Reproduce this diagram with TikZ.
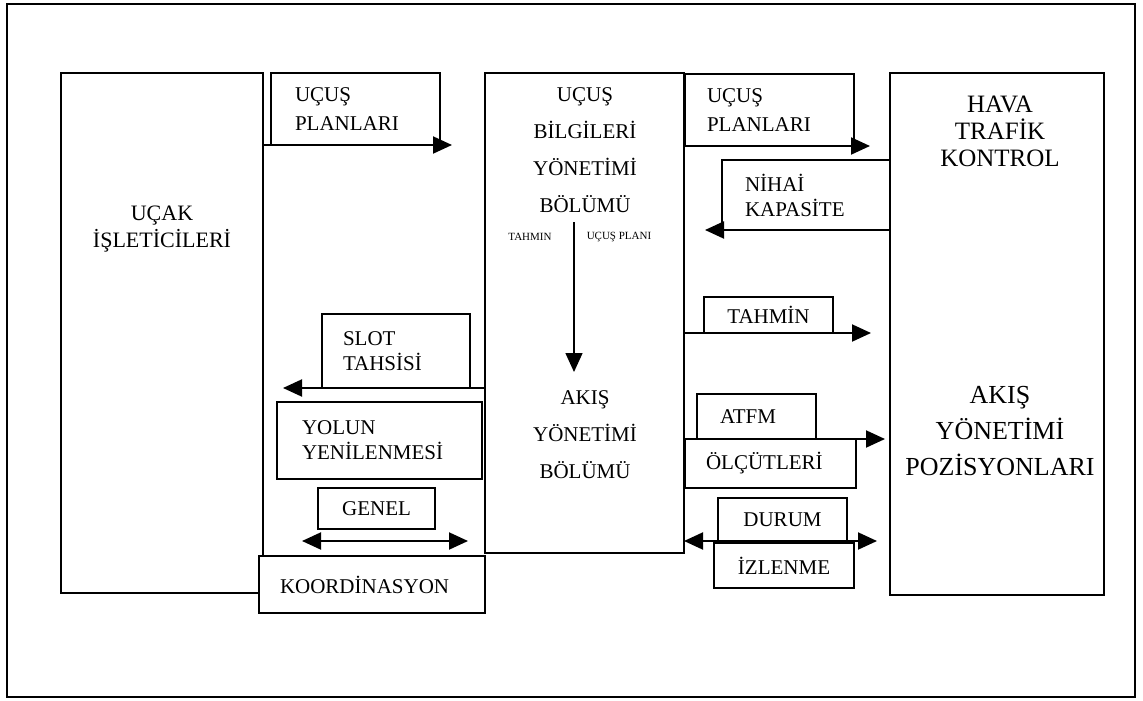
\documentclass[tikz,border=0pt]{standalone}
\usepackage{fontspec}
\setmainfont{Liberation Serif}
\usepackage{tikz}
\usetikzlibrary{arrows.meta, positioning, calc}
\tikzset{
    unit/.style={draw, line width=1.5pt, outer sep=0pt, inner sep=0pt, anchor=north west},
    lbox/.style={draw, line width=1.5pt, fill=white, outer sep=0pt, anchor=north west, align=left, inner ysep=0pt, font=\fontsize{21}{25}\selectfont},
    title/.style={align=center, inner sep=0pt},
    arr/.style={-{Triangle[length=19pt,width=17pt]}, line width=2pt},
    darr/.style={{Triangle[length=19pt,width=17pt]}-{Triangle[length=19pt,width=17pt]}, line width=2pt}
}

\begin{document}
\begin{tikzpicture}[x=1pt, y=-1pt]
  \useasboundingbox (0,0) rectangle (1143,701);
  \draw[line width=1.5pt] (7,4) rectangle (1135,697);

  % main units
  \node[unit, minimum width=202pt, minimum height=520pt] (ucak) at (61,73) {};
  \node[unit, minimum width=199pt, minimum height=480pt] (fdmu) at (485,73) {};
  \node[unit, minimum width=214pt, minimum height=522pt] (atc) at (890,73) {};

  \node[title, font=\fontsize{22}{27}\selectfont] (ucakt) at (162,229) {UÇAK\\İŞLETİCİLERİ};
  \node[title, font=\fontsize{21}{37}\selectfont] (fdmut) at (585,150) {UÇUŞ\\BİLGİLERİ\\YÖNETİMİ\\BÖLÜMÜ};
  \node[title, font=\fontsize{21}{37}\selectfont] (fmut) at (585,435) {AKIŞ\\YÖNETİMİ\\BÖLÜMÜ};
  \node[title, font=\fontsize{25}{27}\selectfont] (atct) at (1000,131) {HAVA\\TRAFİK\\KONTROL};
  \node[title, font=\fontsize{26}{36}\selectfont] (fmpt) at (1000,431) {AKIŞ\\YÖNETİMİ\\POZİSYONLARI};
  \node[font=\fontsize{11}{13}\selectfont] (tahs) at (530,237) {TAHMIN};
  \node[font=\fontsize{11}{13}\selectfont] (plans) at (619,237) {UÇUŞ PLANI};

  % message boxes
  \node[lbox, text width=121pt, inner xsep=24pt, minimum height=72pt, font=\fontsize{21}{29}\selectfont] (pl1) at (271,73) {UÇUŞ\\PLANLARI};
  \node[lbox, text width=125pt, inner xsep=22pt, minimum height=72pt, font=\fontsize{21}{29}\selectfont] (pl2) at (685,74) {UÇUŞ\\PLANLARI};
  \node[lbox, text width=122pt, inner xsep=23pt, minimum height=70pt] (nihai) at (722,160) {NİHAİ\\KAPASİTE};
  \node[lbox, text width=106pt, inner xsep=21pt, minimum height=74pt] (slot) at (322,314) {SLOT\\TAHSİSİ};
  \node[lbox, text width=155pt, inner xsep=25pt, minimum height=77pt] (yolun) at (277,402) {YOLUN\\YENİLENMESİ};
  \node[lbox, align=center, minimum width=117pt, minimum height=41pt] (genel) at (318,488) {GENEL};
  \node[lbox, text width=184pt, inner xsep=21pt, minimum height=57pt] (koord) at (259,556) {KOORDİNASYON};
  \node[lbox, align=center, minimum width=129pt, minimum height=36pt] (tahmin) at (704,297) {TAHMİN};
  \node[lbox, text width=73pt, inner xsep=23pt, minimum height=45pt] (atfm) at (697,394) {ATFM};
  \node[lbox, text width=129pt, inner xsep=21pt, minimum height=49pt] (olcut) at (685,439) {ÖLÇÜTLERİ};
  \node[lbox, align=center, minimum width=129pt, minimum height=43pt] (durum) at (718,498) {DURUM};
  \node[lbox, align=center, minimum width=140pt, minimum height=45pt] (izlen) at (714,543) {İZLENME};

  % arrow ends
  \coordinate (e1) at (452,145);
  \coordinate (e2) at (870,146);
  \coordinate (e3) at (705,230);
  \coordinate (e4) at (283,388);
  \coordinate (e5) at (871,333);
  \coordinate (e6) at (885,439);
  \coordinate (e7) at (877,541);
  \coordinate (e8) at (302,541);
  \coordinate (e9) at (468,541);
  \coordinate (v1) at (574,222);
  \coordinate (v2) at (574,372);

  % flows
  \draw[arr] (ucak.east |- pl1.south) -- (e1);
  \draw[arr] (fdmu.east |- pl2.south) -- (e2);
  \draw[arr] (atc.west |- nihai.south) -- (e3);
  \draw[arr] (fdmu.west |- slot.south) -- (e4);
  \draw[arr] (fdmu.east |- tahmin.south) -- (e5);
  \draw[arr] (fdmu.east |- atfm.south) -- (e6);
  \draw[darr] (fdmu.east |- durum.south) -- (e7);
  \draw[darr] (e8) -- (e9);
  \draw[arr, line width=1.5pt] (v1) -- (v2);
\end{tikzpicture}
\end{document}
